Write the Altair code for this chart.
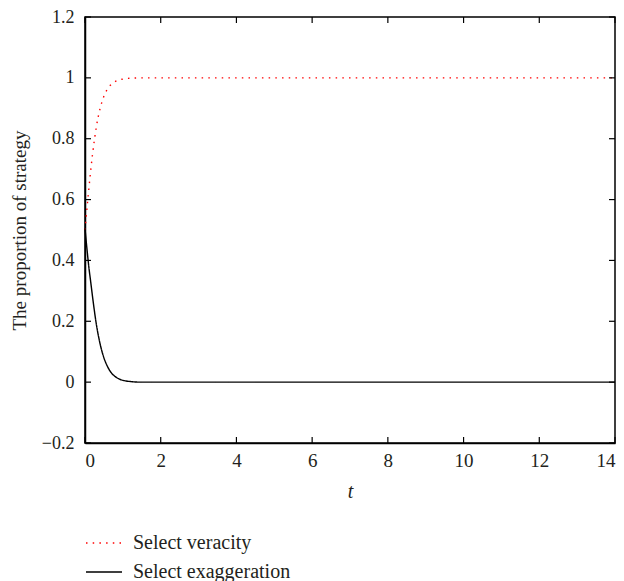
import altair as alt
import pandas as pd

t_vals = [0, 0.05, 0.1, 0.15, 0.2, 0.3, 0.4, 0.5, 0.6, 0.7, 0.8, 1.0, 1.2, 1.5, 2, 3, 4, 5, 6, 7, 8, 9, 10, 11, 12, 13, 14]
veracity = [0.5, 0.568, 0.633, 0.695, 0.75, 0.839, 0.90, 0.94, 0.965, 0.979, 0.988, 0.996, 0.999, 1.0, 1.0, 1.0, 1.0, 1.0, 1.0, 1.0, 1.0, 1.0, 1.0, 1.0, 1.0, 1.0, 1.0]
exaggeration = [0.505, 0.44, 0.38, 0.33, 0.28, 0.19, 0.125, 0.08, 0.05, 0.03, 0.018, 0.006, 0.002, 0.0, 0.0, 0.0, 0.0, 0.0, 0.0, 0.0, 0.0, 0.0, 0.0, 0.0, 0.0, 0.0, 0.0]
series_names = ["Select veracity", "Select exaggeration"]
x_ticks = [0, 2, 4, 6, 8, 10, 12, 14]
y_ticks = [-0.2, 0, 0.2, 0.4, 0.6, 0.8, 1.0, 1.2]

rows = []
for t, v in zip(t_vals, veracity):
    rows.append({"t": t, "value": v, "series": series_names[0]})
for t, v in zip(t_vals, exaggeration):
    rows.append({"t": t, "value": v, "series": series_names[1]})
df = pd.DataFrame(rows)

W, H = 530, 426
FONT = "Liberation Serif"
TXT = "#231f20"

xscale = alt.Scale(domain=[0, 14], nice=False, zero=False)
yscale = alt.Scale(domain=[-0.2, 1.2], nice=False, zero=False)

legend_kw = dict(title=None, orient="none", legendX=0, legendY=507,
                 symbolType="stroke", symbolSize=1296, symbolStrokeWidth=1.4,
                 labelFont=FONT, labelFontSize=20, labelColor=TXT,
                 rowPadding=-18, labelOffset=10)

lines = alt.Chart(df).mark_line(strokeWidth=1.4, interpolate="monotone").encode(
    x=alt.X("t:Q", scale=xscale,
            axis=alt.Axis(values=x_ticks, title="t", titleFontStyle="italic", titleFont=FONT,
                          titleFontWeight="normal", titleFontSize=20, titlePadding=11,
                          labelFont=FONT, labelFontSize=19, labelPadding=8, tickSize=0,
                          grid=False, domainColor="black", domainWidth=1.5, labelColor=TXT)),
    y=alt.Y("value:Q", scale=yscale,
            axis=alt.Axis(values=y_ticks, title="The proportion of strategy", titleFont=FONT,
                          titleFontWeight="normal", titleFontSize=19, titlePadding=12,
                          labelFont=FONT, labelFontSize=18, labelPadding=11, tickSize=0,
                          grid=False, domainColor="black", domainWidth=1.5, labelColor=TXT,
                          format="~g")),
    color=alt.Color("series:N", scale=alt.Scale(domain=series_names, range=["#ff0000", "#000000"]),
                    legend=alt.Legend(**legend_kw)),
    strokeDash=alt.StrokeDash("series:N", scale=alt.Scale(domain=series_names, range=[[1.5, 5.2], [1, 0]]),
                              legend=alt.Legend(**legend_kw)),
)

xt = pd.DataFrame({"x": x_ticks})
yt = pd.DataFrame({"y": y_ticks})
tick_bottom = alt.Chart(xt).mark_rule(color="black", strokeWidth=1.2).encode(
    x=alt.X("x:Q", scale=xscale), y=alt.value(H), y2=alt.value(H - 6))
tick_top = alt.Chart(xt).mark_rule(color="black", strokeWidth=1.2).encode(
    x=alt.X("x:Q", scale=xscale), y=alt.value(0), y2=alt.value(6))
tick_left = alt.Chart(yt).mark_rule(color="black", strokeWidth=1.2).encode(
    y=alt.Y("y:Q", scale=yscale), x=alt.value(0), x2=alt.value(6))
tick_right = alt.Chart(yt).mark_rule(color="black", strokeWidth=1.2).encode(
    y=alt.Y("y:Q", scale=yscale), x=alt.value(W), x2=alt.value(W - 6))

chart = alt.layer(lines, tick_bottom, tick_top, tick_left, tick_right).properties(
    width=W, height=H,
    autosize=alt.AutoSizeParams(type="none"),
    padding={"left": 77, "top": 9, "right": 1, "bottom": 150},
    background="white",
).configure_view(stroke="black", strokeWidth=1.5).configure_axis(titleColor=TXT)

chart.save("out.html", embed_options={"renderer": "svg", "actions": False})
